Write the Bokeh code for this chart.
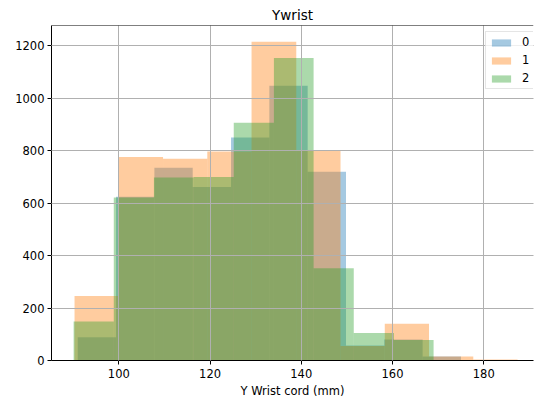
from bokeh.plotting import figure
from bokeh.models import Range1d, FixedTicker, Span, Legend
from bokeh.embed import file_html
from bokeh.resources import INLINE

# Histogram bin edges and counts for the three groups
edges_0 = [91.0, 99.4, 107.8, 116.2, 124.6, 133.0, 141.4, 149.8, 158.2, 166.6, 175.0]
counts_0 = [89, 625, 735, 662, 851, 1048, 720, 57, 80, 15]

edges_1 = [90.3, 100.0, 109.7, 119.4, 129.1, 138.9, 148.6, 158.3, 168.0, 177.7, 187.4]
counts_1 = [246, 776, 770, 797, 1216, 803, 55, 140, 15, 4]

edges_2 = [90.1, 98.9, 107.7, 116.4, 125.2, 134.0, 142.7, 151.5, 160.3, 169.0, 177.8]
counts_2 = [149, 622, 698, 700, 907, 1154, 352, 105, 78, 1]

groups = ["0", "1", "2"]
colors = ["#1f77b4", "#ff7f0e", "#2ca02c"]

x_ticks = [100, 120, 140, 160, 180]
y_ticks = [0, 200, 400, 600, 800, 1000, 1200]

FONT = "DejaVu Sans"

p = figure(
    width=534, height=400,
    x_range=Range1d(85.25, 190.9), y_range=Range1d(0, 1278),
    output_backend="svg", toolbar_location=None,
    min_border_left=51, min_border_right=1, min_border_top=25, min_border_bottom=40,
    title="Ywrist",
)
p.background_fill_color = "white"
p.border_fill_color = "white"
p.outline_line_color = None

p.title.align = "center"
p.title.text_font = FONT
p.title.text_font_size = "13.5px"
p.title.text_font_style = "normal"
p.title.text_color = "black"
p.title.standoff = 5

renderers = []
for edges, counts, color in zip([edges_0, edges_1, edges_2], [counts_0, counts_1, counts_2], colors):
    r = p.quad(left=edges[:-1], right=edges[1:], bottom=0, top=counts,
               fill_color=color, fill_alpha=0.4, line_color=None)
    renderers.append(r)

# top spine
p.add_layout(Span(location=1278, dimension="width", line_color="black", line_width=1))

for ax in (p.xaxis[0], p.yaxis[0]):
    ax.axis_line_color = "black"
    ax.axis_line_width = 1
    ax.major_tick_line_color = "black"
    ax.major_tick_in = 0
    ax.major_tick_out = 4
    ax.minor_tick_line_color = None
    ax.major_label_text_font = FONT
    ax.major_label_text_font_size = "11.5px"
    ax.major_label_text_color = "black"

p.xaxis.ticker = FixedTicker(ticks=x_ticks)
p.yaxis.ticker = FixedTicker(ticks=y_ticks)
p.xaxis.major_label_standoff = 4
p.yaxis.major_label_standoff = 3
p.xaxis.axis_label = "Y Wrist cord (mm)"
p.xaxis.axis_label_text_font = FONT
p.xaxis.axis_label_text_font_size = "11.5px"
p.xaxis.axis_label_text_font_style = "normal"
p.xaxis.axis_label_text_color = "black"
p.xaxis.axis_label_standoff = 3

for g in (p.xgrid[0], p.ygrid[0]):
    g.grid_line_color = "#b0b0b0"
    g.grid_line_width = 1
    g.level = "annotation"

legend = Legend(
    items=[(name, [r]) for name, r in zip(groups, renderers)],
    location=(434, 271),
    glyph_width=24, glyph_height=9,
    label_height=14, label_standoff=9, spacing=4, padding=3, margin=0,
    label_text_font=FONT, label_text_font_size="11.5px", label_text_color="black",
    border_line_color="#cccccc", border_line_width=1,
    background_fill_color="white", background_fill_alpha=0.8,
)
legend.level = "overlay"
p.add_layout(legend, "center")

open("out.html", "w").write(file_html(p, INLINE))
